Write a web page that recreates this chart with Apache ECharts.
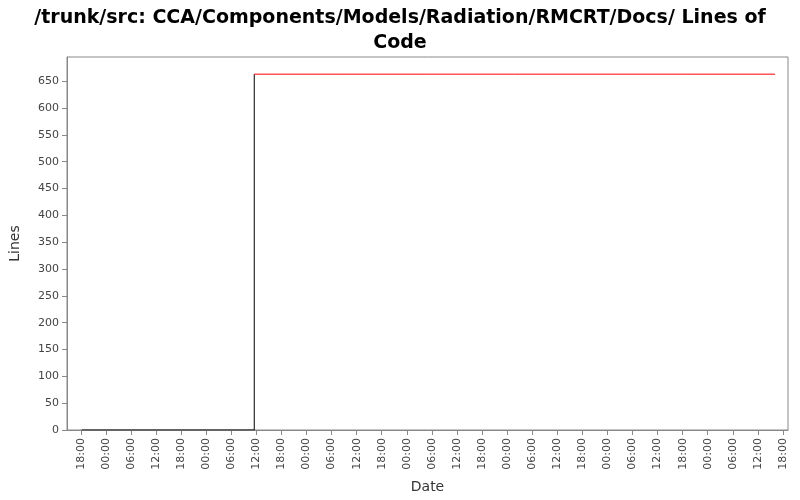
<!DOCTYPE html>
<html>
<head>
<meta charset="utf-8">
<script src="https://cdn.jsdelivr.net/npm/echarts@6/dist/echarts.min.js"></script>
</head>
<body style="margin:0">
<div id="chart" style="width:800px;height:500px"></div>
<script>
// hours since the first 18:00 tick
let tickHours = [];
for (let h = 0; h <= 168; h += 6) tickHours.push(h);
let tickLabels = ['18:00', '00:00', '06:00', '12:00'];
let flatPart = [[0.2, 0], [41.5, 0], [41.5, 663]];
let topPart = [[41.5, 663], [166.1, 663]];

let chart = echarts.init(document.getElementById('chart'));
chart.setOption({
  backgroundColor: '#fff',
  animation: false,
  title: {
    text: '/trunk/src: CCA/Components/Models/Radiation/RMCRT/Docs/ Lines of\nCode',
    left: 'center', top: 1,
    textStyle: { fontFamily: 'DejaVu Sans', fontSize: 19, fontWeight: 'bold', color: '#000', lineHeight: 25 }
  },
  grid: { left: 65, right: 12, top: 57, bottom: 70, show: true, borderColor: '#888', borderWidth: 1 },
  xAxis: {
    type: 'value', min: -3.3, max: 169.2,
    name: 'Date', nameLocation: 'middle', nameGap: 50,
    nameTextStyle: { fontFamily: 'DejaVu Sans', fontSize: 14, color: '#333' },
    splitLine: { show: false },
    axisLine: { onZero: false, lineStyle: { color: '#888' } },
    axisTick: { show: true, customValues: tickHours, lineStyle: { color: '#888' } },
    axisLabel: {
      customValues: tickHours, rotate: 90,
      fontFamily: 'DejaVu Sans', fontSize: 11, color: '#444',
      formatter: v => tickLabels[Math.round(v / 6) % 4]
    }
  },
  yAxis: {
    type: 'value', min: 0, max: 695, interval: 50,
    name: 'Lines', nameLocation: 'middle', nameGap: 45,
    nameTextStyle: { fontFamily: 'DejaVu Sans', fontSize: 14, color: '#333' },
    splitLine: { show: false },
    axisLine: { show: true, onZero: false, lineStyle: { color: '#888' } },
    axisTick: { show: true, lineStyle: { color: '#888' } },
    axisLabel: { fontFamily: 'DejaVu Sans', fontSize: 11, color: '#444', showMaxLabel: false }
  },
  series: [
    { type: 'line', data: flatPart, symbol: 'none', lineStyle: { color: '#000', width: 1 } },
    { type: 'line', data: topPart, symbol: 'none', lineStyle: { color: '#f00', width: 1 } }
  ]
});
</script>
</body>
</html>
